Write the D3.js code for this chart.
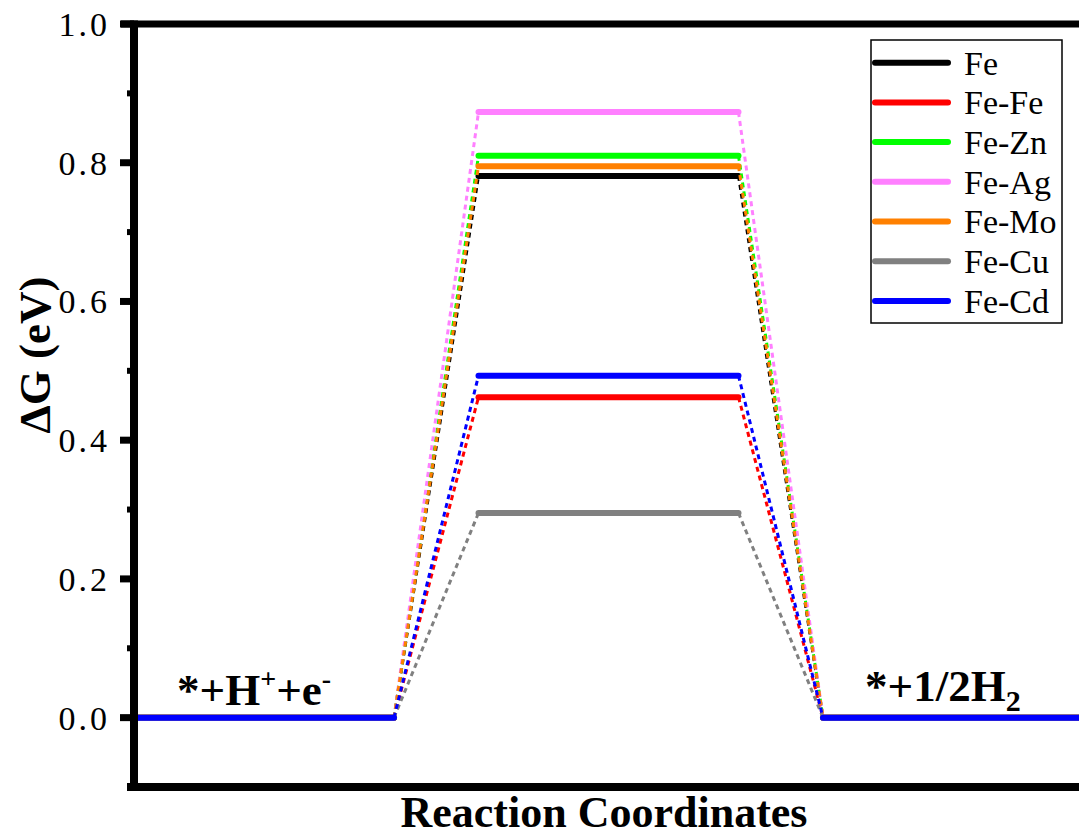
<!DOCTYPE html>
<html>
<head>
<meta charset="utf-8">
<script src="https://cdn.jsdelivr.net/npm/d3@7"></script>
<style>
  body { margin: 0; background: #fff; }
  svg { display: block; }
</style>
</head>
<body>
<div id="visualization"></div>
<script>
// series names, colours and barrier heights (eV)
const names = ["Fe", "Fe-Fe", "Fe-Zn", "Fe-Ag", "Fe-Mo", "Fe-Cu", "Fe-Cd"];
const colors = ["#000000", "#ff0000", "#00ff00", "#ff80ff", "#ff8000", "#808080", "#0000ff"];
const deltaG = [0.781, 0.462, 0.810, 0.873, 0.795, 0.295, 0.493];

// three states along the reaction coordinate
const stepStart = [0, 1.325, 2.65];
const stepWidth = 1;
const majorTicks = [0.0, 0.2, 0.4, 0.6, 0.8, 1.0];
const minorTicks = [0.1, 0.3, 0.5, 0.7, 0.9];

let width = 1079, height = 839;

let x = d3.scaleLinear().domain([0, 1]).range([134, 394]);
let y = d3.scaleLinear().domain([-0.1, 1.0]).range([787, 24]);

document.querySelector("#visualization").innerHTML = '<svg></svg>';
let svg = d3.select("#visualization svg")
  .attr("width", width)
  .attr("height", height)
  .style("font-family", "'Liberation Serif', 'Times New Roman', serif");

// each series: level list [0, dG, 0]
let series = names.map((n, i) => ({name: n, color: colors[i], levels: [0, deltaG[i], 0]}));

let plot = svg.append("g");

series.forEach(s => {
  // dashed connectors
  for (let k = 0; k < 2; k++) {
    plot.append("line")
      .attr("x1", x(stepStart[k] + stepWidth))
      .attr("y1", y(s.levels[k]))
      .attr("x2", x(stepStart[k + 1]))
      .attr("y2", y(s.levels[k + 1]))
      .attr("stroke", s.color)
      .attr("stroke-width", 3)
      .attr("stroke-dasharray", "5,4");
  }
  // solid levels
  s.levels.forEach((v, k) => {
    plot.append("line")
      .attr("x1", x(stepStart[k]))
      .attr("x2", x(stepStart[k] + stepWidth))
      .attr("y1", y(v))
      .attr("y2", y(v))
      .attr("stroke", s.color)
      .attr("stroke-width", 6)
      .attr("stroke-linecap", "round");
  });
});

// axes frame
let ax = svg.append("g").attr("stroke", "#000");
ax.append("line").attr("x1", 121).attr("x2", width).attr("y1", y(1.0)).attr("y2", y(1.0)).attr("stroke-width", 7);
ax.append("line").attr("x1", 127).attr("x2", width).attr("y1", y(-0.1)).attr("y2", y(-0.1)).attr("stroke-width", 8);
ax.append("line").attr("x1", 134).attr("x2", 134).attr("y1", y(1.0) - 3.5).attr("y2", y(-0.1) + 4).attr("stroke-width", 8);

ax.selectAll(".major").data(majorTicks).enter().append("line")
  .attr("x1", 120).attr("x2", 134)
  .attr("y1", d => y(d)).attr("y2", d => y(d))
  .attr("stroke-width", 7);
ax.selectAll(".minor").data(minorTicks).enter().append("line")
  .attr("x1", 127).attr("x2", 134)
  .attr("y1", d => y(d)).attr("y2", d => y(d))
  .attr("stroke-width", 6);

svg.selectAll(".ticklabel").data(majorTicks).enter().append("text")
  .attr("x", 110)
  .attr("y", d => y(d))
  .attr("dy", "0.35em")
  .attr("text-anchor", "end")
  .style("font-size", "34px")
  .style("letter-spacing", "3px")
  .text(d => d3.format(".1f")(d));

// axis titles
svg.append("text")
  .attr("x", 604).attr("y", 827)
  .attr("text-anchor", "middle")
  .style("font-size", "44px").style("font-weight", "bold")
  .text("Reaction Coordinates");

svg.append("text")
  .attr("transform", "translate(50,355) rotate(-90)")
  .attr("text-anchor", "middle")
  .style("font-size", "45px").style("font-weight", "bold")
  .text("ΔG (eV)");

// state labels
let lab1 = svg.append("text").attr("x", 177).attr("y", 705)
  .style("font-size", "45px").style("font-weight", "bold");
lab1.append("tspan").text("*+H");
lab1.append("tspan").attr("dy", -17).style("font-size", "28px").text("+");
lab1.append("tspan").attr("dy", 17).text("+e");
lab1.append("tspan").attr("dy", -17).style("font-size", "28px").text("-");

let lab2 = svg.append("text").attr("x", 865).attr("y", 701)
  .style("font-size", "45px").style("font-weight", "bold");
lab2.append("tspan").text("*+1/2H");
lab2.append("tspan").attr("dy", 10).style("font-size", "30px").text("2");

// legend
let lg = svg.append("g");
lg.append("rect").attr("x", 871).attr("y", 40).attr("width", 191).attr("height", 283)
  .attr("fill", "#fff").attr("stroke", "#000").attr("stroke-width", 1.5);
let item = lg.selectAll(".item").data(series).enter().append("g")
  .attr("transform", (d, i) => "translate(0," + (62.7 + i * 39.7) + ")");
item.append("line").attr("x1", 875).attr("x2", 948)
  .attr("stroke", d => d.color).attr("stroke-width", 6).attr("stroke-linecap", "round");
item.append("text").attr("x", 964).attr("dy", "0.35em")
  .style("font-size", "34px")
  .text(d => d.name);
</script>
</body>
</html>
